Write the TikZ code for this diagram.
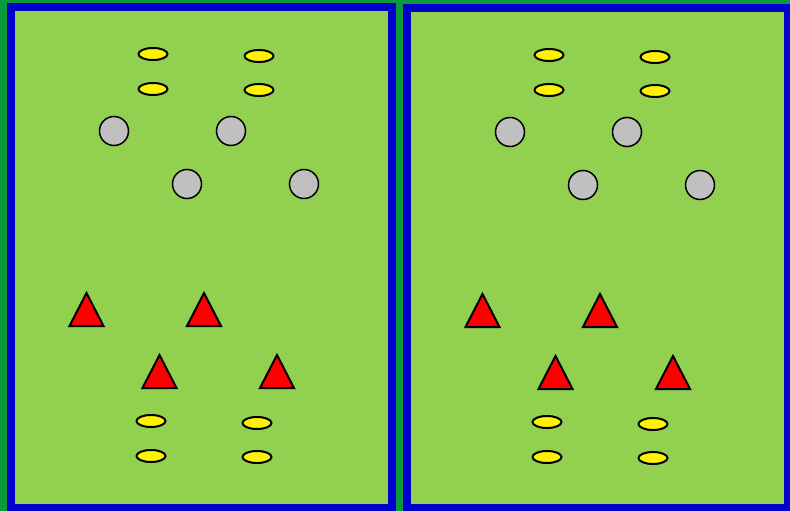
\documentclass[tikz,border=0pt]{standalone}
\usetikzlibrary{shapes.geometric}
\definecolor{bg}{HTML}{0A9A3C}
\definecolor{field}{HTML}{92D050}
\definecolor{frame}{HTML}{0000CC}
\definecolor{disc}{HTML}{C0C0C0}
\tikzset{
  fieldbox/.style={fill=field,draw=frame,line width=8pt},
  marker/.style={ellipse,draw=black,fill=yellow,line width=2pt,minimum width=29pt,minimum height=12pt,inner sep=0pt},
  ball/.style={circle,draw=black,fill=disc,line width=1.5pt,minimum size=29pt,inner sep=0pt},
  cone/.style={draw=black,fill=red,line width=2pt,line join=miter}
}
\newcommand{\conedraw}[2]{\draw[cone] (#1,#2) -- (#1-17,#2+33) -- (#1+17,#2+33) -- cycle;}
\begin{document}
\begin{tikzpicture}[x=1pt,y=-1pt]
\useasboundingbox (0,0) rectangle (790,511);
\fill[bg] (0,0) rectangle (790,511);
\begin{scope}
\clip (0,0) rectangle (790,511);
\draw[fieldbox] (11,7) rectangle (392,508);
\draw[fieldbox] (407,8) rectangle (788,508);
\end{scope}
% left field
\node[marker] (lm1) at (153,54) {};
\node[marker] (lm2) at (259,56) {};
\node[marker] (lm3) at (153,89) {};
\node[marker] (lm4) at (259,90) {};
\node[ball] (lb1) at (114,131) {};
\node[ball] (lb2) at (231,131) {};
\node[ball] (lb3) at (187,184) {};
\node[ball] (lb4) at (304,184) {};
\conedraw{86.5}{293}
\conedraw{204}{293}
\conedraw{159.5}{355}
\conedraw{277}{355}
\node[marker] (lm5) at (151,421) {};
\node[marker] (lm6) at (257,423) {};
\node[marker] (lm7) at (151,456) {};
\node[marker] (lm8) at (257,457) {};
% right field
\node[marker] (rm1) at (549,55) {};
\node[marker] (rm2) at (655,57) {};
\node[marker] (rm3) at (549,90) {};
\node[marker] (rm4) at (655,91) {};
\node[ball] (rb1) at (510,132) {};
\node[ball] (rb2) at (627,132) {};
\node[ball] (rb3) at (583,185) {};
\node[ball] (rb4) at (700,185) {};
\conedraw{482.5}{294}
\conedraw{600}{294}
\conedraw{555.5}{356}
\conedraw{673}{356}
\node[marker] (rm5) at (547,422) {};
\node[marker] (rm6) at (653,424) {};
\node[marker] (rm7) at (547,457) {};
\node[marker] (rm8) at (653,458) {};
\end{tikzpicture}
\end{document}
